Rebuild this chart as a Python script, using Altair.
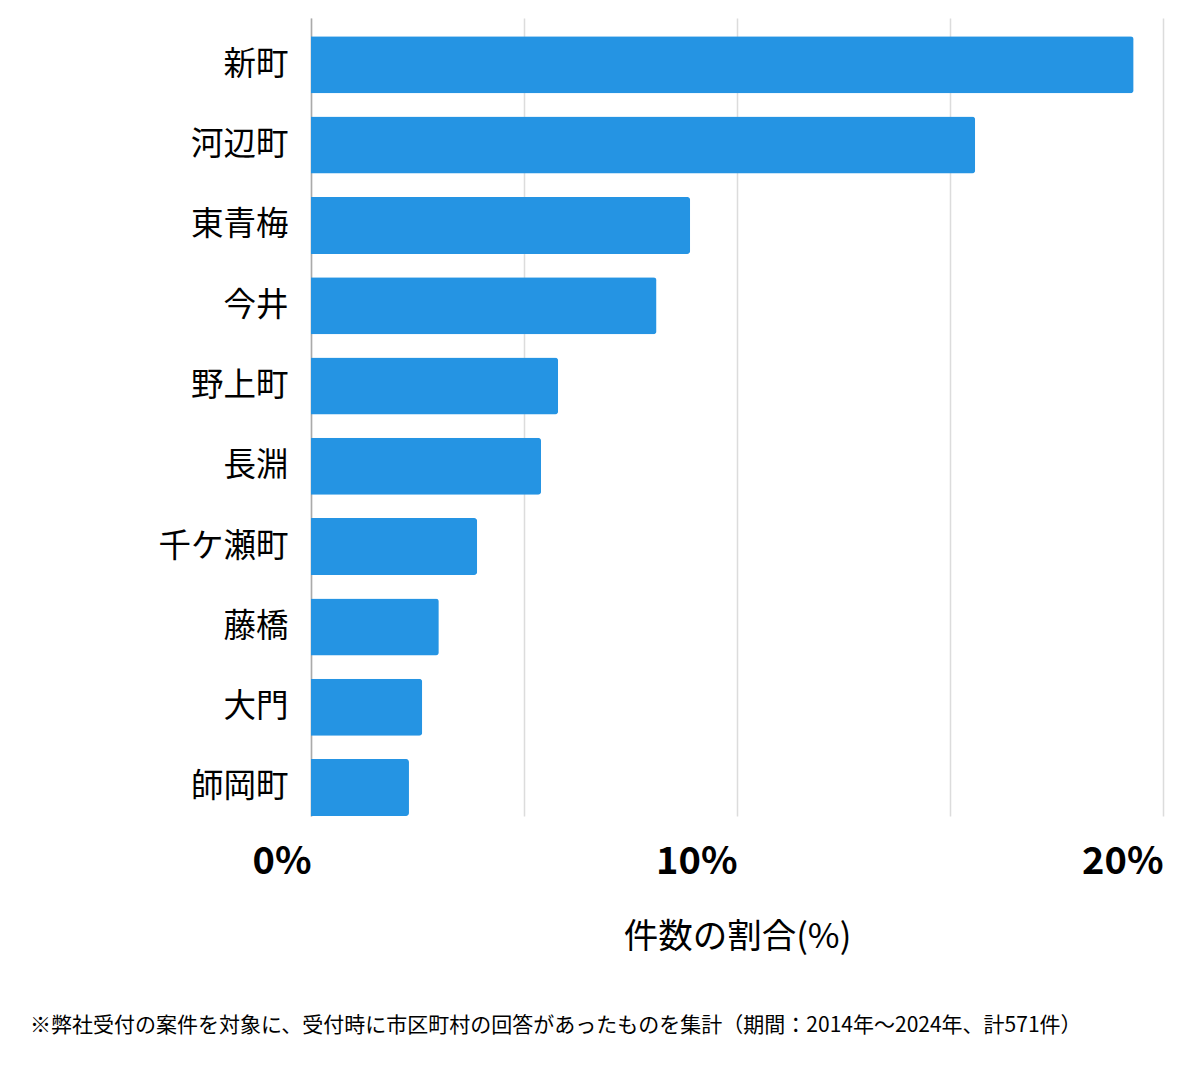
import altair as alt
import pandas as pd

areas = ["新町", "河辺町", "東青梅", "今井", "野上町", "長淵", "千ケ瀬町", "藤橋", "大門", "師岡町"]
shares = [19.31, 15.59, 8.90, 8.11, 5.80, 5.40, 3.90, 3.00, 2.61, 2.30]
x_ticks = [0, 5, 10, 15, 20]
x_title = "件数の割合(%)"
footnote = "※弊社受付の案件を対象に、受付時に市区町村の回答があったものを集計（期間：2014年～2024年、計571件）"

df = pd.DataFrame({"area": areas, "share": shares})

FONT = "Noto Sans CJK JP"

chart = (
    alt.Chart(df)
    .mark_bar(color="#2594e3", cornerRadiusEnd=3)
    .encode(
        x=alt.X(
            "share:Q",
            scale=alt.Scale(domain=[0, 20], nice=False),
            axis=alt.Axis(
                values=x_ticks,
                labelExpr="datum.value % 10 === 0 ? datum.value + '%' : ''",
                labelAlign="right",
                labelFont=FONT,
                labelFontSize=38,
                labelFontWeight="bold",
                labelColor="#000000",
                labelPadding=27,
                ticks=False,
                domain=False,
                grid=True,
                gridColor="#dcdcdc",
                gridWidth=1.5,
                title=x_title,
                titleFont=FONT,
                titleFontSize=34.5,
                titleFontWeight="normal",
                titleColor="#000000",
                titlePadding=39,
            ),
        ),
        y=alt.Y(
            "area:N",
            sort=areas,
            scale=alt.Scale(paddingInner=0.29, paddingOuter=0.114, align=1),
            axis=alt.Axis(
                title=None,
                labelFont=FONT,
                labelFontSize=32.5,
                labelColor="#000000",
                labelPadding=23,
                ticks=False,
                domain=True,
                domainColor="#aaaaaa",
                domainWidth=1.5,
                grid=False,
            ),
        ),
    )
    .properties(
        width=852,
        height=798,
        autosize=alt.AutoSizeParams(type="none"),
        padding={"left": 303, "top": 10, "right": 29, "bottom": 235},
        title=alt.TitleParams(
            text=footnote,
            orient="bottom",
            anchor="start",
            frame="group",
            dx=-281,
            offset=61,
            font=FONT,
            fontSize=21,
            fontWeight="normal",
            color="#000000",
        ),
    )
    .configure_view(stroke=None)
)

chart.save("out.html", embed_options={"renderer": "svg", "actions": False})
